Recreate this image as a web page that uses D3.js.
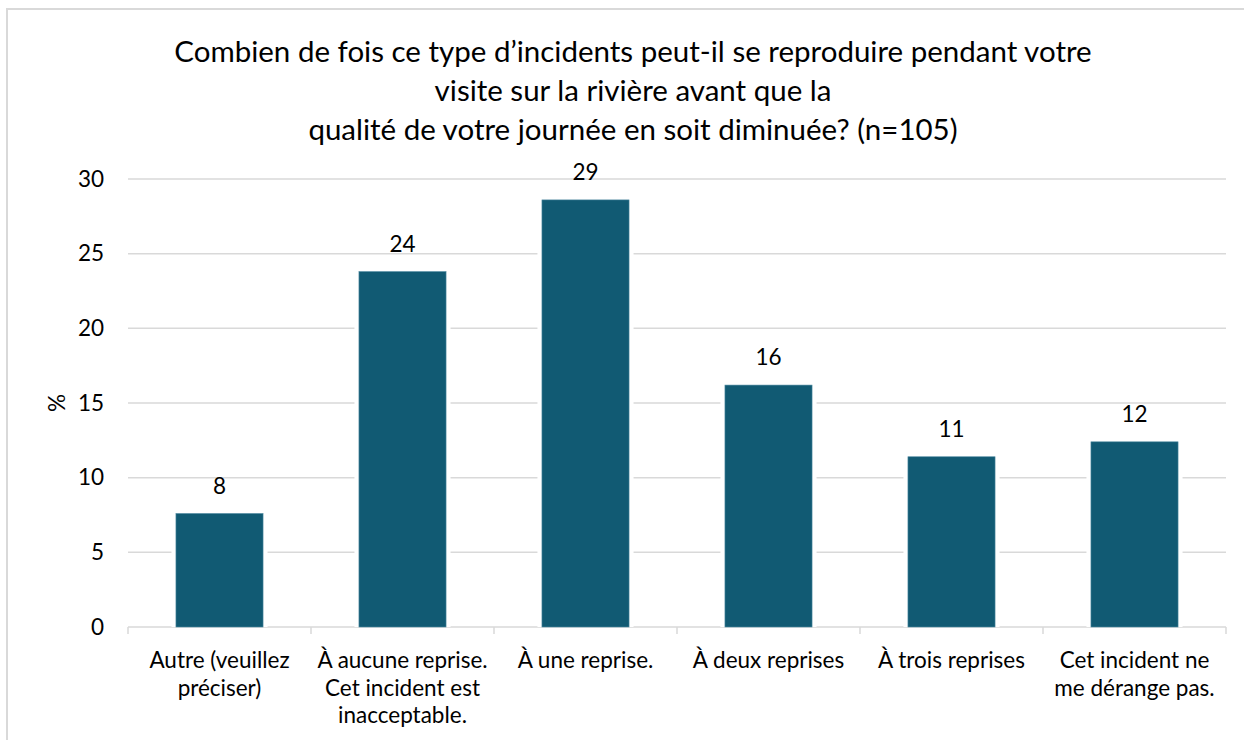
<!DOCTYPE html>
<html>
<head>
<meta charset="utf-8">
<script src="https://cdn.jsdelivr.net/npm/d3@7"></script>
<style>
  html, body { margin: 0; padding: 0; background: #fff; }
  svg { display: block; }
  text { font-family: Lato, "Noto Sans", sans-serif; fill: #000; }
</style>
</head>
<body>
<svg id="chart" width="1244" height="740"></svg>
<script>
// Survey answers (percent of respondents, n = 105)
const categories = [
  "Autre (veuillez\npréciser)",
  "À aucune reprise.\nCet incident est\ninacceptable.",
  "À une reprise.",
  "À deux reprises",
  "À trois reprises",
  "Cet incident ne\nme dérange pas."
];
const values = [7.6, 23.8, 28.6, 16.2, 11.4, 12.4];
const yTicks = [0, 5, 10, 15, 20, 25, 30];
const titleLines = [
  "Combien de fois ce type d’incidents peut-il se reproduire pendant votre",
  "visite sur la rivière avant que la",
  "qualité de votre journée en soit diminuée? (n=105)"
];
const yAxisTitle = "%";

const barColor = "#115a73";
const gridColor = "#d9d9d9";
const labelSize = 22.5;

const svg = d3.select("#chart");
const margin = { left: 128, right: 1226, top: 179, bottom: 627 };

// outer frame
svg.append("rect")
  .attr("x", 7).attr("y", 9)
  .attr("width", 1260).attr("height", 760)
  .attr("fill", "none")
  .attr("stroke", gridColor)
  .attr("stroke-width", 2);

const x = d3.scaleBand()
  .domain(categories)
  .range([margin.left, margin.right])
  .paddingInner(0.524)
  .paddingOuter(0.262);

const y = d3.scaleLinear()
  .domain([0, 30])
  .range([margin.bottom, margin.top]);

// horizontal gridlines
svg.append("g")
  .selectAll("line")
  .data(yTicks.filter(t => t > 0))
  .join("line")
  .attr("x1", margin.left).attr("x2", margin.right)
  .attr("y1", d => y(d)).attr("y2", d => y(d))
  .attr("stroke", gridColor)
  .attr("stroke-width", 1.5);

// y axis labels
const yAxis = d3.axisLeft(y).tickValues(yTicks).tickSize(0).tickPadding(0).tickFormat(d3.format("d"));
const yg = svg.append("g")
  .attr("transform", `translate(${margin.left - 24},0)`)
  .call(yAxis);
yg.select(".domain").remove();
yg.selectAll("text")
  .attr("font-family", "Lato, 'Noto Sans', sans-serif")
  .attr("font-size", labelSize)
  .attr("fill", "#000");

// y axis title
svg.append("text")
  .attr("transform", `translate(65,${y(15)}) rotate(-90)`)
  .attr("text-anchor", "middle")
  .attr("font-size", labelSize)
  .text(yAxisTitle);

// x axis baseline with category separators
const xAxis = d3.axisBottom(x).tickSize(0).tickFormat("");
const xg = svg.append("g")
  .attr("transform", `translate(0,${margin.bottom})`)
  .call(xAxis);
xg.select(".domain")
  .attr("stroke", gridColor)
  .attr("stroke-width", 1.5)
  .attr("d", `M${margin.left},0H${margin.right}`);
const step = x.step();
const separators = d3.range(categories.length + 1).map(i => margin.left + i * step);
svg.append("g")
  .selectAll("line")
  .data(separators)
  .join("line")
  .attr("x1", d => d).attr("x2", d => d)
  .attr("y1", margin.bottom).attr("y2", margin.bottom + 7)
  .attr("stroke", gridColor)
  .attr("stroke-width", 1.5);

// white halo behind bars interrupts the gridlines
svg.append("g")
  .selectAll("rect")
  .data(values)
  .join("rect")
  .attr("x", (d, i) => x(categories[i]) - 4.5)
  .attr("y", d => y(d) - 4.5)
  .attr("width", x.bandwidth() + 9)
  .attr("height", d => y(0) - y(d) + 4.5)
  .attr("fill", "#fff");

// bars
svg.append("g")
  .selectAll("rect")
  .data(values)
  .join("rect")
  .attr("x", (d, i) => x(categories[i]))
  .attr("y", d => y(d))
  .attr("width", x.bandwidth())
  .attr("height", d => y(0) - y(d))
  .attr("fill", barColor)
  .attr("stroke", "#4f8aa0")
  .attr("stroke-width", 0.6);

// value labels
const fmt = d3.format(".0f");
svg.append("g")
  .selectAll("text")
  .data(values)
  .join("text")
  .attr("x", (d, i) => x(categories[i]) + x.bandwidth() / 2)
  .attr("y", d => y(d) - 20)
  .attr("text-anchor", "middle")
  .attr("font-size", labelSize)
  .text(d => fmt(d));

// category labels (pre-wrapped)
const catG = svg.append("g");
categories.forEach(c => {
  const t = catG.append("text")
    .attr("x", x(c) + x.bandwidth() / 2)
    .attr("y", 668)
    .attr("text-anchor", "middle")
    .attr("font-size", labelSize);
  c.split("\n").forEach((line, j) => {
    t.append("tspan")
      .attr("x", x(c) + x.bandwidth() / 2)
      .attr("dy", j === 0 ? 0 : 27.5)
      .text(line);
  });
});

// title
const tt = svg.append("text")
  .attr("text-anchor", "middle")
  .attr("font-size", 29.5);
titleLines.forEach((line, j) => {
  tt.append("tspan")
    .attr("x", 633)
    .attr("y", 62 + j * 39)
    .text(line);
});
</script>
</body>
</html>
